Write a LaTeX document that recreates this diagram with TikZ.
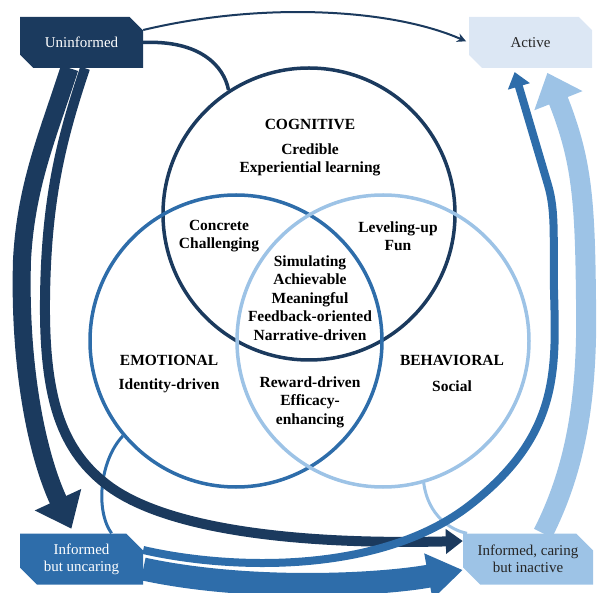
\documentclass[tikz,border=0pt]{standalone}
\usepackage{fontspec}
\setmainfont{Liberation Serif}
\usepackage{tikz}
\usetikzlibrary{arrows.meta, shapes.misc}
\definecolor{navy}{HTML}{1B3A5E}
\definecolor{midblue}{HTML}{2E6DAA}
\definecolor{lightblue}{HTML}{9DC3E6}
\definecolor{paleblue}{HTML}{DCE7F4}

\begin{document}
\begin{tikzpicture}[x=1pt, y=-1pt,
    every node/.style = {align=center},
    ring/.style    = {circle, draw, line width=3.5pt,
      minimum size=292pt, inner sep=0pt},
    stage/.style   = {chamfered rectangle,
      chamfered rectangle corners={north east, south west},
      chamfered rectangle xsep=9pt, chamfered rectangle ysep=8pt,
      minimum width=123pt, minimum height=51pt, inner sep=0pt,
      font=\fontsize{15}{17}\selectfont},
    dimname/.style = {font=\bfseries\fontsize{15.5}{18.5}\selectfont},
    trait/.style   = {font=\bfseries\fontsize{15.5}{18.5}\selectfont},
    link/.style    = {line width=3pt},
  ]
  \useasboundingbox (0,0) rectangle (600,593);

  % the three rings
  \node[ring, navy]      (cog) at (309,214) {};
  \node[ring, midblue]   (emo) at (236,341) {};
  \node[ring, lightblue] (beh) at (383,341) {};

  % the four stages
  \node[stage, fill=navy, text=white]        (unin)  at (81.5,42.5) {Uninformed};
  \node[stage, fill=paleblue, text=black!85] (act)   at (530.5,42.5) {Active};
  \node[stage, fill=midblue, text=white]     (unc)   at (81.5,559) {Informed\\but uncaring};
  \node[stage, fill=lightblue, text=black!85,
        minimum width=130pt]                 (inact) at (528,559) {Informed, caring\\but inactive};

  % links from rings to stages
  \draw[navy, line width=3.5pt] (unin.east) .. controls (200,40) and (224,66) .. (cog.123);
  \draw[midblue, link] (emo.220) .. controls (100,460) and (95,510) .. ([xshift=30pt]unc.north);
  \draw[lightblue, link] (beh.286) .. controls (428,515) and (450,530) .. ([xshift=-61pt]inact.north);

  % flows from uninformed
  \draw[navy, line width=2pt, -{Stealth[length=9pt, width=9pt]}, shorten >=3pt]
    ([yshift=12.5pt]unin.east) .. controls (260,2) and (390,8) .. (act.west);
  \draw[navy, line width=18pt, -{Triangle[length=32pt, width=49pt]}, shorten >=5pt]
    ([xshift=-12pt]unin.south) .. controls (48,135) and (26,185) .. (22,260)
    .. controls (19,360) and (35,450) .. ([xshift=-8pt]unc.north);
  \draw[navy, line width=10pt, -{Triangle[length=17pt, width=24pt]}]
    ([xshift=3.5pt]unin.south) .. controls (61,140) and (46,200) .. (45,300)
    .. controls (44,400) and (62,452) .. (110,487)
    .. controls (170,530) and (300,545) .. ([yshift=18pt]inact.west);

  % flows from informed but uncaring
  \draw[midblue, line width=23pt, -{Triangle[length=35pt, width=44pt]}]
    ([yshift=-10pt]unc.east) .. controls (250,592) and (380,585) .. ([yshift=-11pt]inact.west);
  \draw[midblue, line width=8pt, -{Triangle[length=15pt, width=22pt]}, shorten >=4pt]
    ([yshift=9pt]unc.east) .. controls (230,570) and (380,575) .. (470,505)
    .. controls (560,435) and (556,370) .. (554,290)
    .. controls (553,240) and (556,212) .. (548,185)
    -- ([xshift=-17pt]act.south);

  % flow from informed, caring
  \draw[lightblue, line width=20pt, -{Triangle[length=30pt, width=50pt]}, shorten >=5pt]
    ([xshift=15pt]inact.north) .. controls (575,470) and (588,400) .. (586,300)
    .. controls (585,200) and (582,160) .. ([xshift=15pt]act.south);

  % ring texts
  \node[dimname] (cogname) at (310,124) {COGNITIVE};
  \node[trait]   (cogtr)   at (310,160) {Credible\\Experiential learning};
  \node[trait]   (cetr)    at (219,236) {Concrete\\Challenging};
  \node[trait]   (cbtr)    at (398,236) {Leveling-up\\Fun};
  \node[trait]   (coretr)  at (310,298) {Simulating\\Achievable\\Meaningful\\Feedback-oriented\\Narrative-driven};
  \node[dimname] (emoname) at (169,360) {EMOTIONAL};
  \node[trait]   (emotr)   at (169,386) {Identity-driven};
  \node[dimname] (behname) at (452,360) {BEHAVIORAL};
  \node[trait]   (behtr)   at (452,386) {Social};
  \node[trait]   (ebtr)    at (310,402) {Reward-driven\\Efficacy-\\enhancing};
\end{tikzpicture}
\end{document}
